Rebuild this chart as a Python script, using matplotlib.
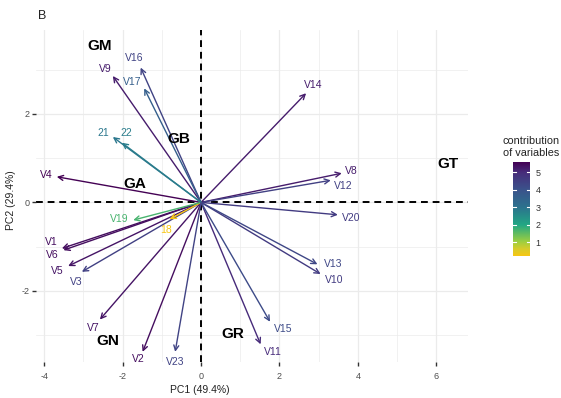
import matplotlib
matplotlib.use("Agg")
import matplotlib.pyplot as plt
import numpy as np
from matplotlib.colors import Normalize, LinearSegmentedColormap

plt.rcParams['font.family'] = ['Liberation Sans', 'DejaVu Sans']

# variable loadings (arrow tips)
var_names = ["V1", "V2", "V3", "V4", "V5", "V6", "V7", "V8", "V9", "V10", "V11", "V12",
             "V13", "V14", "V15", "V16", "V17", "18", "V19", "V20", "21", "22", "V23"]
pc1 = [-3.55, -1.49, -3.04, -3.68, -3.39, -3.51, -2.58, 3.59, -2.25, 3.05, 1.52, 3.31,
       2.97, 2.68, 1.76, -1.54, -1.45, -0.80, -1.73, 3.49, -2.25, -2.02, -0.66]
pc2 = [-1.04, -3.38, -1.57, 0.58, -1.44, -1.08, -2.65, 0.66, 2.86, -1.62, -3.21, 0.50,
       -1.40, 2.47, -2.70, 3.05, 2.58, -0.38, -0.40, -0.28, 1.48, 1.35, -3.38]
contrib = [5.4, 5.4, 4.5, 5.57, 5.3, 5.4, 5.3, 5.2, 5.2, 4.6, 5.0, 4.5,
           4.3, 5.2, 4.2, 4.4, 3.6, 0.22, 1.7, 4.6, 2.9, 2.8, 4.4]
# label positions
lab_x = [-3.81, -1.61, -3.19, -3.94, -3.67, -3.79, -2.75, 3.84, -2.45, 3.39, 1.84, 3.63,
         3.36, 2.87, 2.10, -1.70, -1.75, -0.89, -2.09, 3.84, -2.49, -1.91, -0.65]
lab_y = [-0.89, -3.55, -1.80, 0.62, -1.55, -1.19, -2.85, 0.71, 3.02, -1.76, -3.38, 0.37,
         -1.40, 2.65, -2.87, 3.27, 2.73, -0.63, -0.38, -0.36, 1.57, 1.56, -3.61]

# group labels
groups = ["GM", "GB", "GA", "GN", "GR", "GT"]
grp_x = [-2.59, -0.56, -1.68, -2.38, 0.82, 6.31]
grp_y = [3.54, 1.43, 0.41, -3.13, -2.98, 0.86]

x_ticks = [-4, -2, 0, 2, 4, 6]
y_ticks = [-2, 0, 2]
cbar_ticks = [1, 2, 3, 4, 5]

W, H = 561, 398
fig = plt.figure(figsize=(W / 100, H / 100), dpi=100)
L, R, T, B = 36, 468, 30, 362
ax = fig.add_axes([L / W, 1 - B / H, (R - L) / W, (B - T) / H])
ax.set_xlim(-4.21, 6.81)
ax.set_ylim(-3.61, 3.90)

cmap = LinearSegmentedColormap.from_list("contrib", [
    (0.0, '#f7c613'), (0.07, '#d9cc2a'), (0.15, '#9fcf3f'), (0.33, '#22a884'),
    (0.52, '#2c728e'), (0.71, '#3b528b'), (0.89, '#472d7b'), (1.0, '#440154')])
norm = Normalize(vmin=min(contrib), vmax=max(contrib))

# grid
for v in range(-4, 7):
    ax.axvline(v, color='#ebebeb', lw=0.9 if v % 2 == 0 else 0.5, zorder=0)
for v in range(-3, 4):
    ax.axhline(v, color='#ebebeb', lw=0.9 if v % 2 == 0 else 0.5, zorder=0)
ax.axhline(0, color='black', lw=1.4, ls=(0, (3.5, 2.5)), zorder=1)
ax.axvline(0, color='black', lw=1.4, ls=(0, (3.5, 2.5)), zorder=1)

for n, x, y, c, lx, ly in zip(var_names, pc1, pc2, contrib, lab_x, lab_y):
    col = cmap(norm(c))
    ax.annotate("", xy=(x, y), xytext=(0, 0),
                arrowprops=dict(arrowstyle='->', color=col, lw=1.0,
                                mutation_scale=9, shrinkA=0, shrinkB=0), zorder=3)
    ax.text(lx, ly, n, color=col, fontsize=7.5, ha='center', va='center', zorder=4,
            clip_on=False)

for g, x, y in zip(groups, grp_x, grp_y):
    ax.text(x, y, g, fontsize=11, fontweight='bold', ha='center', va='center',
            color='black', zorder=5)

for s in ax.spines.values():
    s.set_visible(False)
ax.set_xticks(x_ticks)
ax.set_yticks(y_ticks)
ax.set_xticklabels([str(t) for t in x_ticks])
ax.set_yticklabels([str(t) for t in y_ticks])
ax.tick_params(axis='x', length=3, width=1, color='#333333', labelcolor='#4d4d4d',
               labelsize=6.5, pad=4)
ax.tick_params(axis='y', length=3, width=1, color='#333333', labelcolor='#4d4d4d',
               labelsize=6.5, pad=1.5)

fig.text(200 / W, 1 - 390 / H, "PC1 (49.4%)", fontsize=7.5, color='#222222',
         ha='center', va='center')
fig.text(11 / W, 1 - 200 / H, "PC2 (29.4%)", fontsize=7.5, color='#222222',
         ha='center', va='center', rotation=90)
fig.text(42 / W, 1 - 16 / H, "B", fontsize=9, color='#222222', ha='center', va='center')

# colorbar
cax = fig.add_axes([513 / W, 1 - 256 / H, 17 / W, 94 / H])
grad = np.linspace(min(contrib), max(contrib), 256).reshape(-1, 1)
cax.imshow(grad, aspect='auto', cmap=cmap, norm=norm, origin='lower',
           extent=[0, 1, min(contrib), max(contrib)])
cax.set_xlim(0, 1)
cax.set_ylim(min(contrib), max(contrib))
for t in cbar_ticks:
    cax.plot([0, 0.2], [t, t], color='white', lw=0.8)
    cax.plot([0.8, 1], [t, t], color='white', lw=0.8)
cax.set_xticks([])
cax.yaxis.tick_right()
cax.set_yticks(cbar_ticks)
cax.set_yticklabels([str(t) for t in cbar_ticks])
cax.tick_params(axis='y', length=0, labelsize=6.5, labelcolor='#333333', pad=4)
for s in cax.spines.values():
    s.set_visible(False)
fig.text(531 / W, 1 - 147 / H, "contribution\nof variables", fontsize=7.8,
         color='#222222', ha='center', va='center', linespacing=1.2)

fig.savefig("out.png", dpi=100)
